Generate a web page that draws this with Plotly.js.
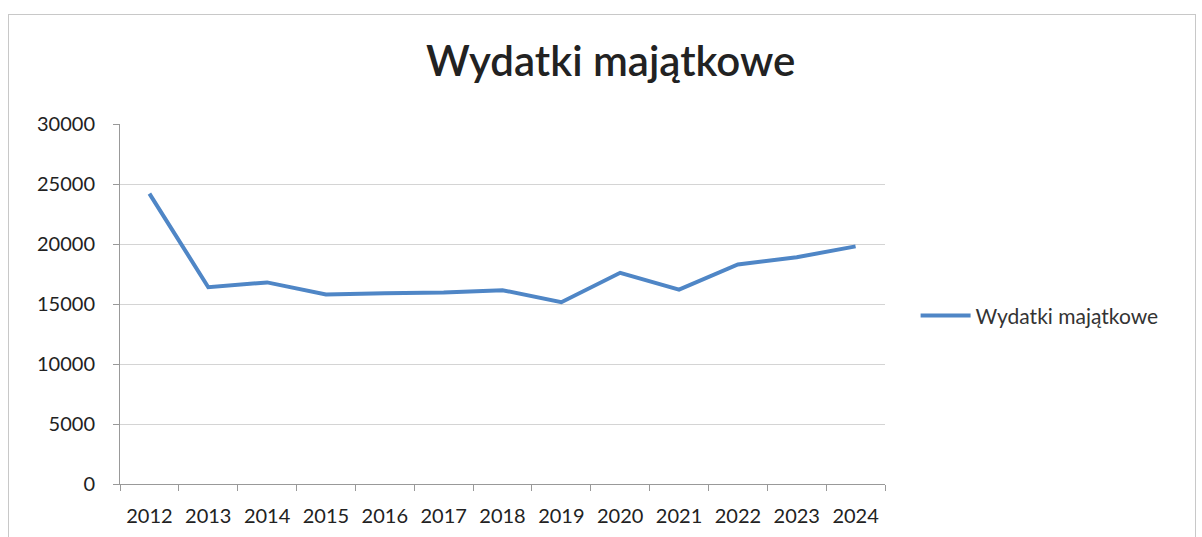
<!DOCTYPE html>
<html>
<head>
<meta charset="utf-8">
<script src="https://cdn.plot.ly/plotly-3.0.1.min.js"></script>
<style>
html,body{margin:0;padding:0;background:#fff;}
#frame{position:absolute;left:8px;top:14px;width:1188px;height:540px;border:1px solid #c8c8c8;box-sizing:border-box;}
#chart{position:absolute;left:0;top:0;width:1202px;height:537px;}
</style>
</head>
<body>
<div id="frame"></div>
<div id="chart"></div>
<script>
const years = ["2012","2013","2014","2015","2016","2017","2018","2019","2020","2021","2022","2023","2024"];
const wydatki = [24200,16400,16800,15800,15900,15950,16150,15150,17600,16200,18300,18900,19800];
const seriesName = "Wydatki majątkowe";
const yTicks = [0,5000,10000,15000,20000,25000,30000];

const font = "Lato, 'Open Sans', sans-serif";
Plotly.newPlot('chart', [{
  x: years, y: wydatki, type: 'scatter', mode: 'lines', name: seriesName,
  line: {color: '#4f86c6', width: 4}
}], {
  width: 1202, height: 537,
  paper_bgcolor: 'rgba(0,0,0,0)', plot_bgcolor: 'rgba(0,0,0,0)',
  margin: {l: 120, r: 317, t: 124, b: 53},
  title: {text: 'Wydatki majątkowe', x: 0.508, xanchor: 'center', y: 0.885, yanchor: 'middle',
          font: {family: font, size: 42, color: '#222', weight: 600}},
  showlegend: true,
  legend: {x: 1.04, xanchor: 'left', y: 0.467, yanchor: 'middle', font: {family: font, size: 21, color: '#333'}, itemwidth: 50},
  xaxis: {type: 'category', range: [-0.5, 12.5], tickson: 'boundaries', ticks: 'outside', ticklen: 6, tickcolor: '#999',
          showline: true, linecolor: '#999', showgrid: false, ticklabelstandoff: 14,
          tickfont: {family: font, size: 20, color: '#222'}},
  yaxis: {range: [0, 30000], tickvals: yTicks, tickformat: 'd', ticks: 'outside', ticklen: 6, tickcolor: '#999',
          showline: true, linecolor: '#999', gridcolor: '#d4d4d4', zeroline: false,
          tickfont: {family: font, size: 20, color: '#222'}, ticklabelstandoff: 14}
}, {staticPlot: true});
</script>
</body>
</html>
